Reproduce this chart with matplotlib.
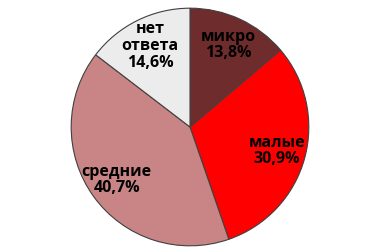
import matplotlib
matplotlib.use('Agg')
import matplotlib.pyplot as plt

# Данные диаграммы
categorias = ['микро', 'малые', 'средние', 'нет\nответа']
valores = [13.8, 30.9, 40.7, 14.6]
cores = ['#6e2c2c', '#ff0000', '#c98585', '#ececec']

plt.rcParams['font.family'] = ['Open Sans', 'DejaVu Sans']

fig = plt.figure(figsize=(3.81, 2.49), dpi=100)
ax = fig.add_axes([70 / 381, 2 / 249, 240 / 381, 240 / 249])

it = iter(zip(categorias, valores))


def rotulo(pct):
    nome, v = next(it)
    return f'{nome}\n{v:.1f}%'.replace('.', ',')


fatias, textos, numeros = ax.pie(
    valores, colors=cores, startangle=90, counterclock=False,
    autopct=rotulo, pctdistance=0.76,
    wedgeprops=dict(edgecolor='#404040', linewidth=0.8))
for t in numeros:
    t.set_fontsize(11.5)
    t.set_fontweight('bold')
    t.set_linespacing(1.05)
ax.set_xlim(-1.01, 1.01)
ax.set_ylim(-1.01, 1.01)
ax.set_aspect('equal')
ax.axis('off')

fig.savefig('out.png', dpi=100)
